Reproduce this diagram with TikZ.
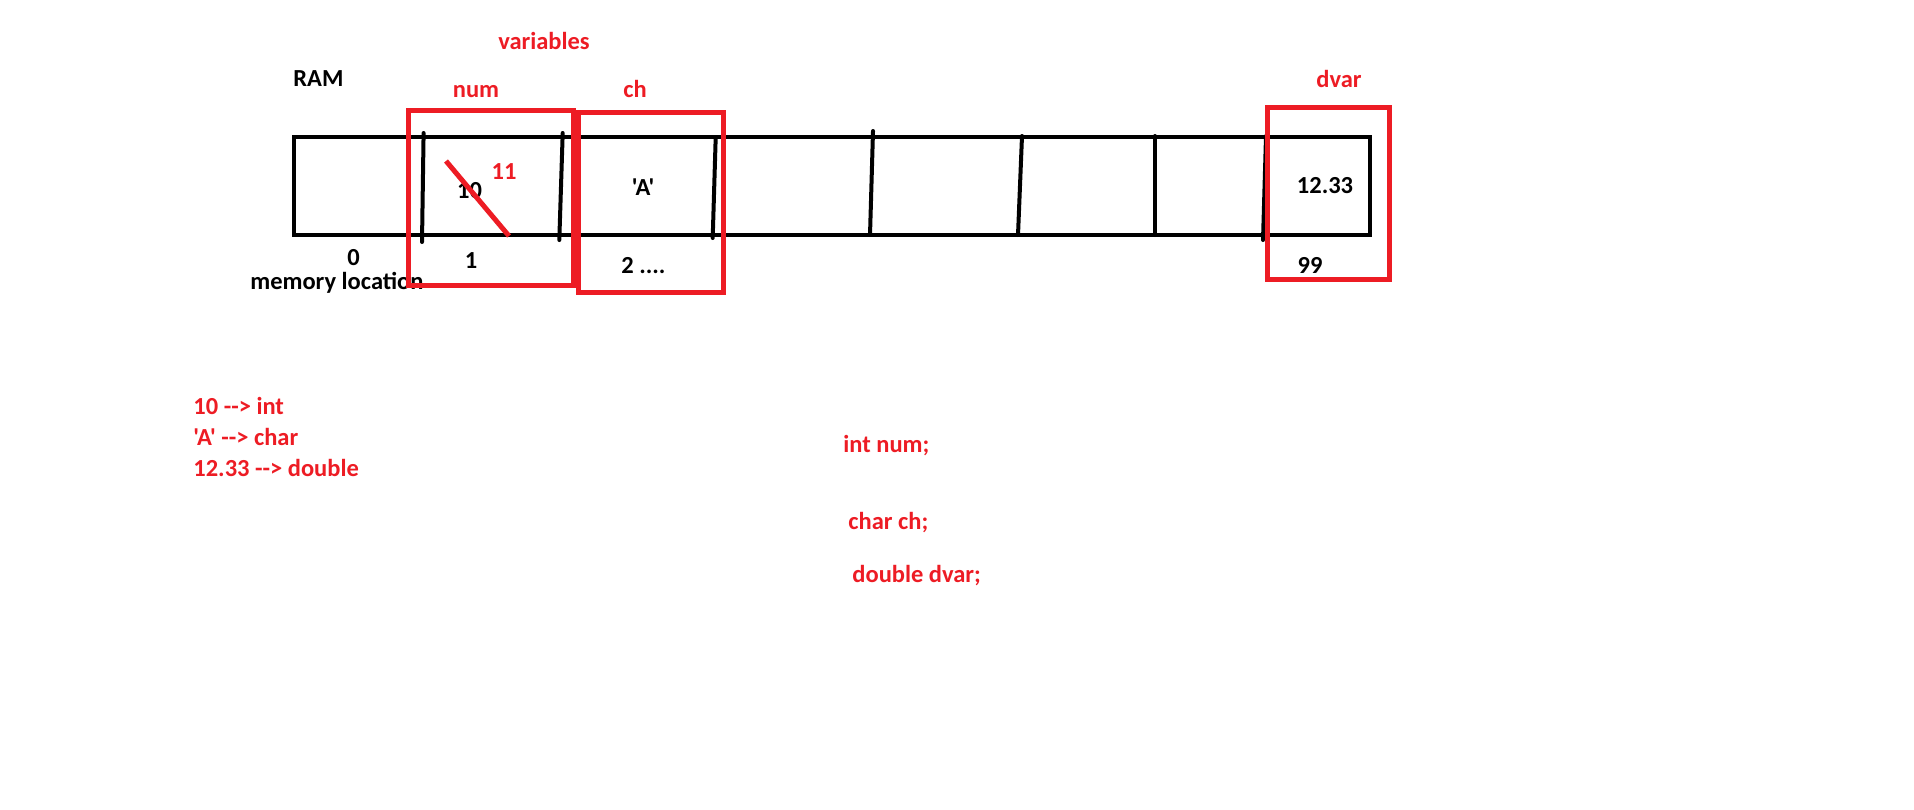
\documentclass[tikz,border=0pt]{standalone}
\usepackage{fontspec}
\setmainfont{Carlito}[Ligatures=TeXOff]
\usepackage{tikz}
\definecolor{paintred}{RGB}{237,28,36}

\begin{document}
\begin{tikzpicture}[x=0.5pt, y=-0.5pt,
    font=\fontsize{12.25}{14}\selectfont\bfseries,
    lbl/.style={inner sep=0pt, anchor=base},
    rlbl/.style={lbl, text=paintred},
    cell/.style={line width=2pt, line cap=round},
    varbox/.style={draw=paintred, line width=2.5pt}]
  \useasboundingbox (0,0) rectangle (1914,809);
  % memory strip
  \draw[line width=2pt] (294,137) rectangle (1370,235);
  \foreach \xa/\ya/\xb/\yb in {423.6/133/422/242, 562.7/133/559.3/240,
      715.7/137/712.7/238, 873/131/870/235, 1022/136/1018/235,
      1155/136/1155/235, 1266/136/1263/240}
    \draw[cell] (\xa,\ya) -- (\xb,\yb);

  \node[lbl, anchor=base west] (ram) at (293,86) {RAM};
  \node[lbl] (v10) at (469.5,198) {10};
  \node[lbl] (vA) at (643,195) {'A'};
  \node[lbl] (vd) at (1325,193) {12.33};
  \node[lbl] (a0) at (353.5,265.5) {0};
  \node[lbl, anchor=base west] (memloc) at (250,289) {memory location};
  \node[lbl] (a1) at (471,268) {1};
  \node[lbl, anchor=base west] (a2) at (621,273) {2 ....};
  \node[lbl] (a99) at (1310,273) {99};

  % variables
  \node[rlbl] (vars) at (544,49) {variables};
  \node[rlbl] (num) at (476,97) {num};
  \node[rlbl] (ch) at (635,97) {ch};
  \node[rlbl] (dvar) at (1339,87) {dvar};
  \node[rlbl] (v11) at (504,179) {11};
  \draw[paintred, line width=2.5pt] (446,161) -- (509,236);
  \draw[varbox] (408,110) rectangle (573,285);
  \draw[varbox] (578,112) rectangle (723,292);
  \draw[varbox] (1267,107) rectangle (1389,279);

  % types
  \node[rlbl, anchor=base west] (t1) at (193,414) {10 --> int};
  \node[rlbl, anchor=base west] (t2) at (193,445) {'A' --> char};
  \node[rlbl, anchor=base west] (t3) at (193,476) {12.33 --> double};
  \node[rlbl, anchor=base west] (d1) at (843,452) {int num;};
  \node[rlbl, anchor=base west] (d2) at (848,529) {char ch;};
  \node[rlbl, anchor=base west] (d3) at (852,582) {double dvar;};
\end{tikzpicture}
\end{document}
